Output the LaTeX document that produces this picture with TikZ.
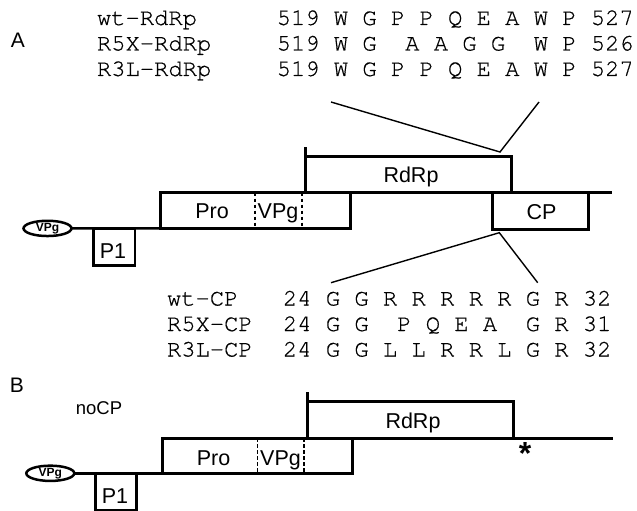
\documentclass[tikz,border=0pt]{standalone}
\usepackage{fontspec}
\newfontfamily\sansf{Liberation Sans}
\newfontfamily\monof[FakeBold=0.6]{texgyrecursor-regular.otf}
\usetikzlibrary{shapes.geometric}
\begin{document}
\begin{tikzpicture}[x=1pt,y=-1pt,
  every node/.style={inner sep=0pt,outer sep=0pt},
  gbox/.style={draw,line width=2.5pt,rectangle,anchor=north west},
  gline/.style={line width=2.5pt},
  zoomline/.style={line width=1.4pt},
  cut/.style={line width=1.5pt,dash pattern=on 3.5pt off 2.5pt},
  lab/.style={font=\sansf\fontsize{21.5}{25}\selectfont,anchor=base},
  seq/.style={font=\monof\fontsize{23.8}{28}\selectfont,anchor=base west},
  vpgcap/.style={draw,ellipse,line width=2.5pt,minimum width=48pt,minimum height=13pt,
    font=\sansf\bfseries\fontsize{12}{12}\selectfont},
  panel/.style={font=\sansf\fontsize{21}{24}\selectfont},
]
\useasboundingbox (0,0) rectangle (637,511);

% ---------- panel A: RdRp motif ----------
\node[panel] (labA) at (18,40) {A};
\node[seq] (n1) at (97,25)  {wt-RdRp};
\node[seq] (n2) at (97,50.5) {R5X-RdRp};
\node[seq] (n3) at (97,76)  {R3L-RdRp};
\node[seq] (s1) at (276.7,25)  {519 W G P P Q E A W P 527};
\node[seq] (s2) at (276.7,50.5) {519 W G\ \ A A G G\ \ W P 526};
\node[seq] (s3) at (276.7,76)  {519 W G P P Q E A W P 527};

% ---------- panel A: genome map ----------
\node[vpgcap] (vpgA) at (47.5,228.4) {VPg};
\node[gbox,minimum width=41.7pt,minimum height=37.4pt] (p1A) at (93.3,228.3) {};
\node[gbox,minimum width=190pt,minimum height=35.6pt] (proA) at (160.7,192.7) {};
\node[gbox,minimum width=206pt,minimum height=36pt] (rdA) at (305.7,156.7) {};
\node[gbox,minimum width=96pt,minimum height=36.6pt] (cpA) at (492.3,192.7) {};
\coordinate (endA) at (611.7,192.7);
\coordinate (tickA) at (305.7,147);

\draw[gline] (vpgA.east) -- (proA.south west);
\draw[gline] (proA.north east) -- (endA);
\draw[gline] (rdA.north west) -- (tickA);
\draw[cut] ([xshift=94.3pt]proA.north west) -- ([xshift=94.3pt]proA.south west);
\draw[cut] ([xshift=141.3pt]proA.north west) -- ([xshift=141.3pt]proA.south west);

\node[lab] (tP1A) at (113,258.3) {P1};
\node[lab] (tProA) at (212,218.5) {Pro};
\node[lab] (tVPgA) at (278,218.5) {VPg};
\node[lab] (tRdA) at (411,182.5) {RdRp};
\node[lab] (tCPA) at (541.5,219.3) {CP};

% zoom-out lines to the motifs
\coordinate (ru1) at (331,102);
\coordinate (ruv) at (500,152);
\coordinate (ru2) at (539,102);
\draw[zoomline] (ru1) -- (ruv) -- (ru2);
\coordinate (cl1) at (331,282.7);
\coordinate (clv) at (499.3,232.7);
\coordinate (cl2) at (537.7,282.7);
\draw[zoomline] (cl1) -- (clv) -- (cl2);

% ---------- panel A: CP motif ----------
\node[seq] (m1) at (167,305.5) {wt-CP};
\node[seq] (m2) at (167,331)   {R5X-CP};
\node[seq] (m3) at (167,356.5) {R3L-CP};
\node[seq] (c1) at (283,305.5) {24 G G R R R R R G R 32};
\node[seq] (c2) at (283,331)   {24 G G\ \ P Q E A\ \ G R 31};
\node[seq] (c3) at (283,356.5) {24 G G L L R R L G R 32};

% ---------- panel B: noCP ----------
\node[panel] (labB) at (17,385) {B};
\node[font=\sansf\fontsize{18.5}{22}\selectfont] (nocp) at (99,408) {noCP};

\node[vpgcap] (vpgB) at (50.3,473.3) {VPg};
\node[gbox,minimum width=41pt,minimum height=36.7pt] (p1B) at (95.7,473.3) {};
\node[gbox,minimum width=189.6pt,minimum height=35pt] (proB) at (162.7,438.3) {};
\node[gbox,minimum width=206pt,minimum height=36.6pt] (rdB) at (307.3,401.7) {};
\coordinate (endB) at (613.3,438.3);
\coordinate (tickB) at (307.3,392);

\draw[gline] (vpgB.east) -- (proB.south west);
\draw[gline] (proB.north east) -- (endB);
\draw[gline] (rdB.north west) -- (tickB);
\draw[cut] ([xshift=94.6pt]proB.north west) -- ([xshift=94.6pt]proB.south west);
\draw[cut] ([xshift=141.3pt]proB.north west) -- ([xshift=141.3pt]proB.south west);

\node[lab] (tP1B) at (115,503.3) {P1};
\node[lab] (tProB) at (213.5,465) {Pro};
\node[lab] (tVPgB) at (280.5,465) {VPg};
\node[lab] (tRdB) at (413,428) {RdRp};
\node[font=\sansf\bfseries\fontsize{32}{32}\selectfont,anchor=north] (stop) at (525,442) {*};
\end{tikzpicture}
\end{document}
